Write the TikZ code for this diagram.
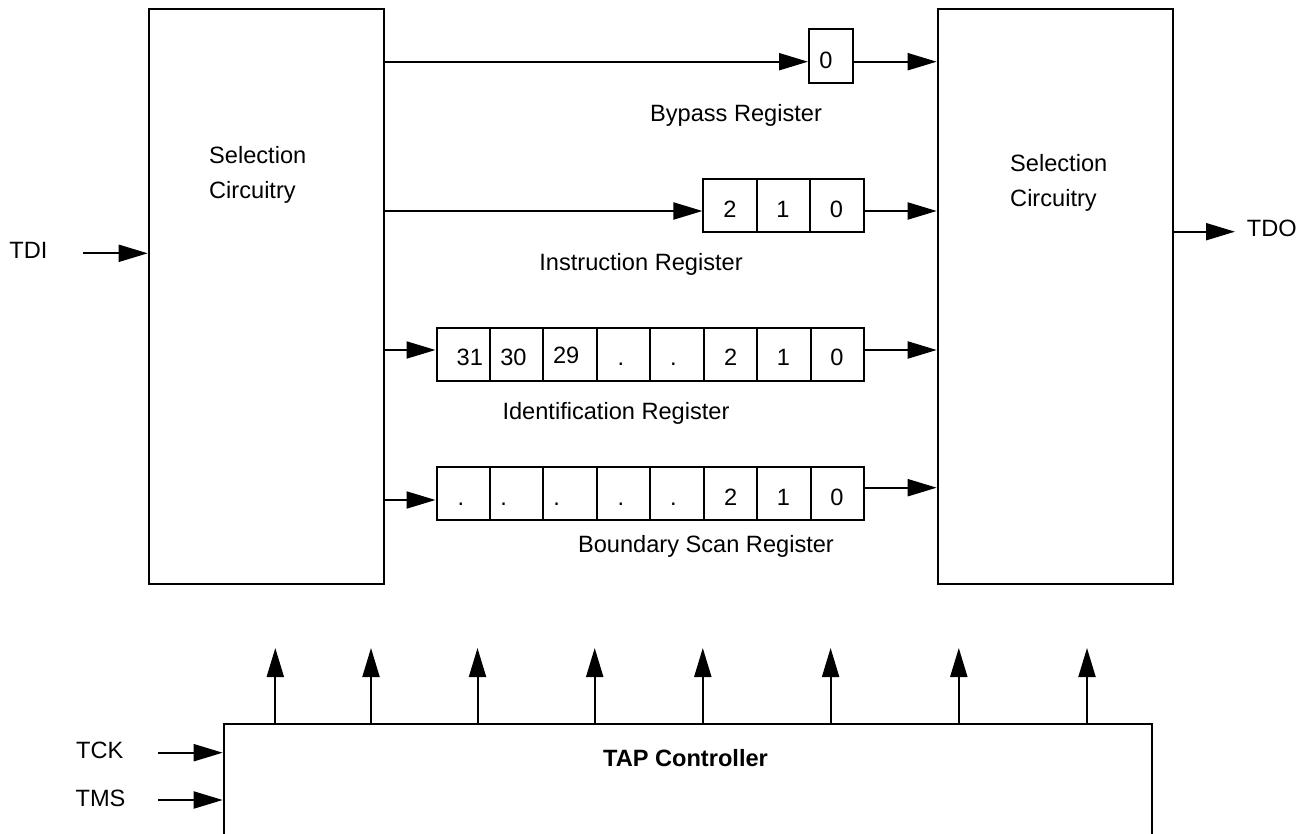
\documentclass[tikz,border=0pt]{standalone}
\usepackage{fontspec}
\setmainfont{Liberation Sans}
\usetikzlibrary{arrows.meta}

\newcommand{\regfont}{\fontsize{23.6pt}{35pt}\selectfont}

\tikzset{
    sig/.style={line width=2pt,-{Triangle[length=29pt,width=17pt]}},
    blk/.style={draw,line width=2pt,inner sep=0pt,anchor=north west},
    cell/.style={draw,line width=2pt,inner sep=0pt,minimum width=53.45pt,minimum height=53pt},
    bit/.style={inner sep=0pt,anchor=base},
}

\begin{document}
\begin{tikzpicture}[x=1pt,y=-1pt,font=\regfont]
        \useasboundingbox (0,0) rectangle (1307,834);
        \clip (0,0) rectangle (1307,834);

        % Coordinates
        \coordinate (rowbyp) at (0,61.7);
        \coordinate (rowir) at (0,211);
        \coordinate (rowid) at (0,350);
        \coordinate (rowbsin) at (0,500);
        \coordinate (rowbsout) at (0,487.7);
        \coordinate (tdiin) at (83,253.3);
        \coordinate (tdoout) at (1235,231.7);
        \coordinate (tckin) at (158,752.7);
        \coordinate (tmsin) at (158,800);

        % Blocks
        \node[blk,minimum width=235.6pt,minimum height=575.6pt] (selL) at (147.7,7.7) {};
        \node[blk,minimum width=235.6pt,minimum height=575.6pt] (selR) at (936.7,7.7) {};
        \node[blk,minimum width=928pt,minimum height=150pt] (tap) at (222.7,722.7) {};

        % Registers
        \node[cell,minimum width=43.8pt,minimum height=53.7pt] (byp) at (830.9,56.2) {};
        \foreach \i in {1,...,3}
            \node[cell] (ir\i) at ({703.4+53.5*(\i-0.5)},205.3) {};
        \foreach \i in {1,...,8}
            \node[cell,minimum height=52.7pt] (id\i) at ({436.5+53.45*(\i-0.5)},354.7) {};
        \foreach \i in {1,...,8}
            \node[cell,minimum height=53.3pt] (bs\i) at ({436.5+53.45*(\i-0.5)},493.3) {};

        % Bits
        \node[bit] (byp0) at (826,68.5) {0};
        \foreach \t/\x [count=\i] in {2/730,1/783,0/836.5}
            \node[bit] (irt\i) at (\x,217.8) {\t};
        \foreach \t/\x/\y [count=\i] in {31/469.8/365.8,30/513.4/365.8,29/566.2/363.8,./621/365.8,./673.4/365.8,2/730.6/365.8,1/783.5/365.8,0/837/365.8}
            \node[bit] (idt\i) at (\x,\y) {\t};
        \foreach \t/\x [count=\i] in {./460.8,./503.7,./556.6,./621,./673.4,2/730.6,1/783.5,0/837}
            \node[bit] (bst\i) at (\x,505) {\t};

        % Labels
        \node[inner sep=0pt,align=left,anchor=west] (selLtxt) at (209,175) {Selection\\Circuitry};
        \node[inner sep=0pt,align=left,anchor=west] (selRtxt) at (1010,183) {Selection\\Circuitry};
        \node[bit] (byplbl) at (736,121.5) {Bypass Register};
        \node[bit] (irlbl) at (641,270.5) {Instruction Register};
        \node[bit] (idlbl) at (616,419.5) {Identification Register};
        \node[bit] (bslbl) at (706,552) {Boundary Scan Register};
        \node[bit] (taplbl) at (685.5,766.5) {\bfseries TAP Controller};
        \node[bit] (tdi) at (28.5,258.5) {TDI};
        \node[bit,anchor=base west] (tdo) at (1246.7,236.5) {TDO};
        \node[bit] (tck) at (99.7,758.5) {TCK};
        \node[bit] (tms) at (100.5,806.5) {TMS};

        % Signals
        \draw[sig] (selL.east |- rowbyp) -- (byp.west |- rowbyp);
        \draw[sig] (byp.east |- rowbyp) -- (selR.west |- rowbyp);
        \draw[sig] (selL.east |- rowir) -- (ir1.west |- rowir);
        \draw[sig] (ir3.east |- rowir) -- (selR.west |- rowir);
        \draw[sig] (selL.east |- rowid) -- (id1.west |- rowid);
        \draw[sig] (id8.east |- rowid) -- (selR.west |- rowid);
        \draw[sig] (selL.east |- rowbsin) -- (bs1.west |- rowbsin);
        \draw[sig] (bs8.east |- rowbsout) -- (selR.west |- rowbsout);
        \draw[sig] (tdiin) -- (selL.west |- tdiin);
        \draw[sig] (selR.east |- tdoout) -- (tdoout);
        \draw[sig] (tckin) -- (tap.west |- tckin);
        \draw[sig] (tmsin) -- (tap.west |- tmsin);
        \foreach \x in {275.3,371,477.5,594.7,702.8,830.6,958.8,1087}
            \draw[sig] (tap.north -| \x,0) -- (\x,648);
    \end{tikzpicture}
\end{document}
